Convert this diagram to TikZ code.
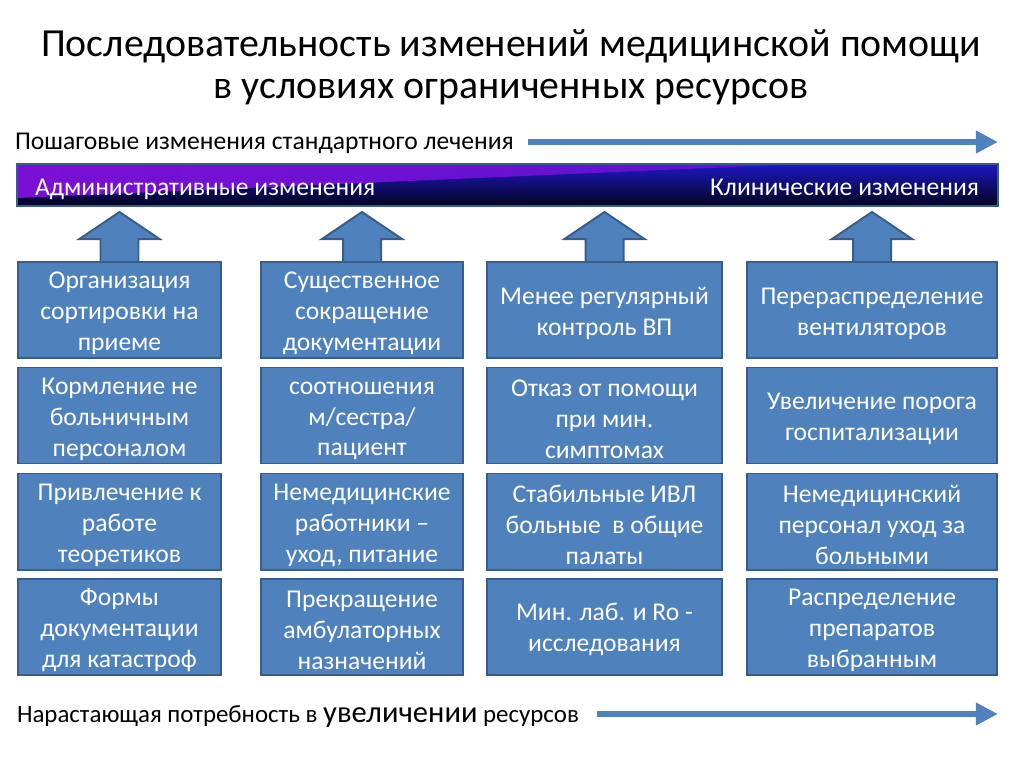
\documentclass[tikz,border=0pt]{standalone}
\usepackage{fontspec}
\setmainfont{Carlito}
\usetikzlibrary{arrows.meta,backgrounds}

\definecolor{boxblue}{HTML}{4F81BD}
\definecolor{boxedge}{HTML}{385D8A}
\definecolor{barpurple}{HTML}{7A10D4}
\definecolor{barblue}{HTML}{1E18C4}
\definecolor{barnavy}{HTML}{03031E}

\newcommand\boxstrut{\rule{0pt}{16.5pt}}

\tikzset{
  cell/.style={draw=boxedge, line width=1.4pt, fill=boxblue, text=white,
    minimum height=67.5pt, align=center, inner sep=1pt,
    font=\fontsize{18}{21.7}\selectfont},
  colA/.style={minimum width=142.7pt},
  colB/.style={minimum width=142pt},
  colC/.style={minimum width=165.2pt},
  colD/.style={minimum width=175.8pt},
  uparrow/.style={draw=boxedge, line width=1.4pt, fill=boxblue},
  longarrow/.style={boxblue, line width=4.9pt, -{Triangle[length=15.5pt,width=15pt]}}
}

\begin{document}
\begin{tikzpicture}[x=0.703125pt, y=-0.703125pt]
\useasboundingbox (0,0) rectangle (1024,767);

% title
\node[font=\fontsize{28}{29.5}\selectfont, align=center] (title) at (511,67)
  {Последовательность изменений медицинской помощи\\в условиях ограниченных ресурсов};

% upper arrow
\node[anchor=west, font=\fontsize{18}{21}\selectfont] (steps) at (10,143) {Пошаговые изменения стандартного лечения};
\coordinate (stepsA) at (528,142);
\coordinate (stepsB) at (998,142);
\draw[longarrow] (stepsA) -- (stepsB);

% gradient bar
\shade[top color=barblue, bottom color=barnavy] (17,164) rectangle (998,206);
\shade[left color=barpurple, right color=barpurple!70!barblue] (17,164) -- (800,164) -- (17,198) -- cycle;
\draw[boxedge, line width=1.2pt] (17,164) rectangle (998,206);
\node[anchor=base west, text=white, font=\fontsize{18}{21}\selectfont] (admin) at (30,196) {Административные изменения};
\node[anchor=base east, text=white, font=\fontsize{18}{21}\selectfont] (clinic) at (984,196) {Клинические изменения};

% boxes
\node[cell, colA] (box-1-1) at (119.5,310) {\boxstrut Организация\\сортировки на\\приеме};
\node[cell, colA] (box-1-2) at (119.5,415.5) {\boxstrut Кормление не\\больничным\\персоналом};
\node[cell, colA] (box-1-3) at (119.5,521.5) {\boxstrut Привлечение к\\работе\\теоретиков};
\node[cell, colA] (box-1-4) at (119.5,626.5) {\boxstrut Формы\\документации\\для катастроф};

\node[cell, colB] (box-2-1) at (362,310) {\boxstrut Существенное\\сокращение\\документации};
\node[cell, colB] (box-2-2) at (362,415.5) {\boxstrut соотношения\\м/сестра/\\пациент};
\node[cell, colB] (box-2-3) at (362,521.5) {\boxstrut Немедицинские\\работники --\\уход, питание};
\node[cell, colB] (box-2-4) at (362,626.5) {\boxstrut Прекращение\\амбулаторных\\назначений};

\node[cell, colC] (box-3-1) at (604.5,310) {\boxstrut Менее регулярный\\контроль ВП};
\node[cell, colC] (box-3-2) at (604.5,415.5) {\boxstrut Отказ от помощи\\при мин.\\симптомах};
\node[cell, colC] (box-3-3) at (604.5,521.5) {\boxstrut Стабильные ИВЛ\\больные\ \ в общие\\палаты};
\node[cell, colC] (box-3-4) at (604.5,626.5) {\boxstrut Мин. лаб. и Ro -\\исследования};

\node[cell, colD] (box-4-1) at (872,310) {\boxstrut Перераспределение\\вентиляторов};
\node[cell, colD] (box-4-2) at (872,415.5) {\boxstrut Увеличение порога\\госпитализации};
\node[cell, colD] (box-4-3) at (872,521.5) {\boxstrut Немедицинский\\персонал уход за\\больными};
\node[cell, colD] (box-4-4) at (872,626.5) {\boxstrut Распределение\\препаратов\\выбранным};

% block arrows up to the bar
\begin{scope}[on background layer]
\foreach \c in {1,...,4}
  \draw[uparrow, shift={(box-\c-1.north)}] (-19,2) -- (-19,-22) -- (-40,-22) -- (0,-49) -- (40,-22) -- (19,-22) -- (19,2);
\end{scope}

% lower arrow
\node[anchor=west, font=\fontsize{17.5}{20}\selectfont] (need) at (12,716)
  {Нарастающая потребность в {\fontsize{21.5}{20}\selectfont увеличении} ресурсов};
\coordinate (needA) at (597,714);
\coordinate (needB) at (998,714);
\draw[longarrow] (needA) -- (needB);
\end{tikzpicture}
\end{document}
